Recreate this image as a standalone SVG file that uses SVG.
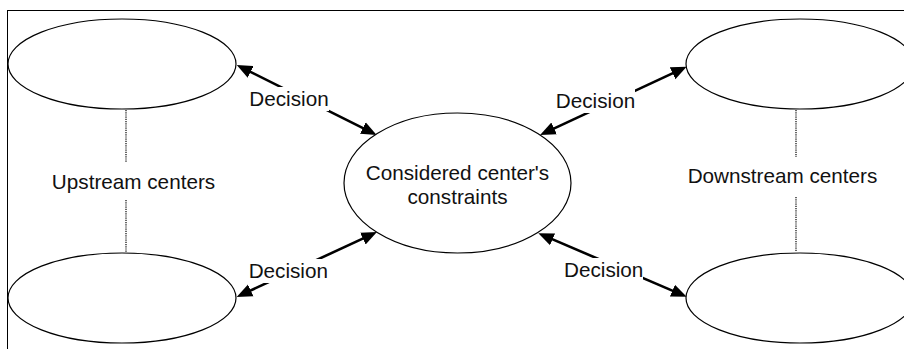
<svg xmlns="http://www.w3.org/2000/svg" width="904" height="349" viewBox="0 0 904 349">
<style>
  .node { fill: #fff; stroke: #000; stroke-width: 1.2; }
  .lbl { font-family: "Liberation Sans", Arial, sans-serif; font-size: 20.7px; fill: #111; text-anchor: middle; }
  .arrow { stroke: #000; stroke-width: 2.6; fill: none; marker-start: url(#ah); marker-end: url(#ah); }
  .dot { stroke: #000; stroke-width: 1.2; stroke-dasharray: 1.2 1; fill: none; }
  .bg { fill: #fff; }
</style>
<defs>
  <marker id="ah" markerUnits="userSpaceOnUse" markerWidth="16" markerHeight="14" viewBox="0 0 16 14" refX="7.5" refY="7" orient="auto-start-reverse">
    <path d="M0,0.5 L15.5,7 L0,13.5 z" fill="#000"/>
  </marker>
</defs>
<rect id="frame" x="7.5" y="10.5" width="920" height="360" fill="#fff" stroke="#000" stroke-width="1"/>

<g id="connectors">
  <line class="dot" x1="126" y1="110" x2="126" y2="162"/>
  <line class="dot" x1="126" y1="200" x2="126" y2="252"/>
  <line class="dot" x1="796" y1="110" x2="796" y2="157"/>
  <line class="dot" x1="796" y1="197" x2="796" y2="252"/>

  <line class="arrow" x1="243.9" y1="68.6" x2="369.5" y2="131.4"/>
  <line class="arrow" x1="243.9" y1="293.6" x2="369.7" y2="235.4"/>
  <line class="arrow" x1="547.3" y1="131.6" x2="679.4" y2="70.1"/>
  <line class="arrow" x1="545.7" y1="236.4" x2="679.3" y2="293.6"/>

  <g id="lbl-tl">
    <rect class="bg" x="250" y="87" width="79" height="24"/>
    <text class="lbl" x="289" y="106">Decision</text>
  </g>
  <g id="lbl-bl">
    <rect class="bg" x="249" y="259" width="79" height="24"/>
    <text class="lbl" x="288.3" y="278.3">Decision</text>
  </g>
  <g id="lbl-tr">
    <rect class="bg" x="556" y="89" width="79" height="24"/>
    <text class="lbl" x="595.5" y="107.7">Decision</text>
  </g>
  <g id="lbl-br">
    <rect class="bg" x="564" y="258" width="79" height="24"/>
    <text class="lbl" x="603.7" y="276.7">Decision</text>
  </g>
</g>

<g id="upstream-top">
  <ellipse class="node" cx="122" cy="64" rx="114" ry="45"/>
</g>
<g id="upstream-bottom">
  <ellipse class="node" cx="122" cy="298" rx="114" ry="45"/>
</g>
<g id="downstream-top">
  <ellipse class="node" cx="800" cy="64" rx="114" ry="45"/>
</g>
<g id="downstream-bottom">
  <ellipse class="node" cx="800" cy="298" rx="114" ry="45"/>
</g>
<g id="center">
  <ellipse class="node" cx="457.5" cy="183" rx="113.5" ry="70"/>
  <text class="lbl" x="457.5" y="180">Considered center's</text>
  <text class="lbl" x="457.5" y="203.5">constraints</text>
</g>
<g id="upstream-label">
  <text class="lbl" x="133.5" y="189.3">Upstream centers</text>
</g>
<g id="downstream-label">
  <text class="lbl" x="782.5" y="183">Downstream centers</text>
</g>
</svg>
